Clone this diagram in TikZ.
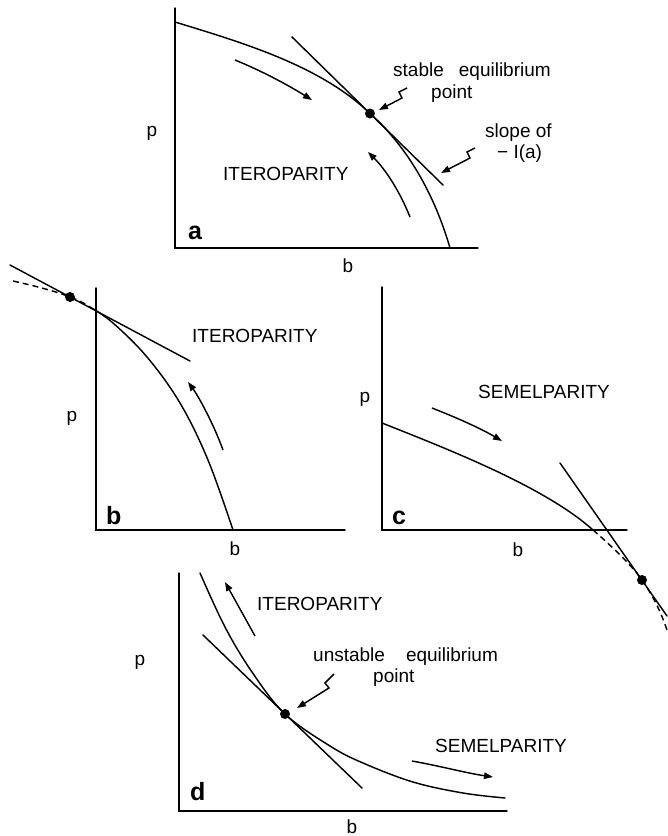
\documentclass[tikz,border=0pt]{standalone}
\usepackage{fontspec}
\setmainfont{Liberation Sans}
\usetikzlibrary{arrows.meta}
\begin{document}
\begin{tikzpicture}[x=1pt,y=-1pt,
  ln/.style={line width=1.45pt, line cap=round},
  arr/.style={line width=1.45pt, -{Triangle[length=9pt,width=6.5pt]}},
  dsh/.style={line width=1.45pt, dash pattern=on 6pt off 4pt},
  lbl/.style={font=\fontsize{19}{21}\selectfont, inner sep=0pt, anchor=base west},
  axl/.style={font=\fontsize{19}{21}\selectfont, inner sep=0pt},
  pan/.style={font=\fontsize{25}{27}\selectfont\bfseries, inner sep=0pt, anchor=base west},
  eqdot/.style={circle, fill, inner sep=0pt, minimum size=10pt}]
\useasboundingbox (0,0) rectangle (668,836);

% ---------------- panel a ----------------
\coordinate (aO) at (175,248);
\coordinate (aYt) at (175,8);
\coordinate (aXr) at (478,248);
\draw[ln] (aYt) -- (aO) -- (aXr);
\coordinate (aS) at (175,22);
\coordinate (aE) at (370,113.5);
\coordinate (aF) at (450,248);
\draw[ln] (aS) .. controls (240,42) and (320,65) .. (aE)
              .. controls (402,142) and (432,186) .. (aF);
\coordinate (aT1) at (292,37);
\coordinate (aT2) at (443,185);
\draw[ln] (aT1) -- (aT2);
\node[eqdot] (aDot) at (aE) {};
\coordinate (aA1s) at (235,60);
\coordinate (aA1e) at (312,100);
\draw[arr] (aA1s) .. controls (262,71) and (288,85) .. (aA1e);
\coordinate (aA2s) at (410,217);
\coordinate (aA2e) at (368,152);
\draw[arr] (aA2s) .. controls (400,192) and (386,170) .. (aA2e);
\node[lbl] (aStable) at (393,76) {stable\hspace{15pt}equilibrium};
\node[lbl] (aPoint) at (431,98) {point};
\node[lbl] (aSlope) at (485,137) {slope of};
\node[lbl] (aIa) at (497,158) {− I(a)};
\coordinate (aQ1s) at (407,88);
\coordinate (aQ1t) at (379,110);
\draw[arr] (aQ1s) -- (399,92) -- (402,98) -- (aQ1t);
\coordinate (aQ2s) at (475,148);
\coordinate (aQ2t) at (441,173);
\draw[arr] (aQ2s) -- (467,152) -- (470,158) -- (aQ2t);
\node[lbl] (aItero) at (223,180) {ITEROPARITY};
\node[pan] (aLab) at (188,239) {a};
\node[axl] (aP) at (152,133) {p};
\node[axl] (aB) at (348,266) {b};

% ---------------- panel b ----------------
\coordinate (bO) at (96,530);
\coordinate (bYt) at (96,288);
\coordinate (bXr) at (345,530);
\draw[ln] (bYt) -- (bO) -- (bXr);
\coordinate (bE) at (70,297);
\coordinate (bJ) at (90,307);
\draw[dsh] (13,281) .. controls (35,286) and (55,291) .. (bE)
              .. controls (78,300) and (84,303) .. (bJ);
\draw[ln] plot[smooth, tension=0.6] coordinates {(90,307) (113,323) (147,357) (180,403) (208,460) (233,530)};
\coordinate (bT1) at (10,265);
\coordinate (bT2) at (190,361);
\draw[ln] (bT1) -- (bT2);
\node[eqdot] (bDot) at (bE) {};
\coordinate (bAs) at (223,450);
\coordinate (bAe) at (188,382);
\draw[arr] (bAs) .. controls (214,425) and (199,397) .. (bAe);
\node[lbl] (bItero) at (192,342) {ITEROPARITY};
\node[pan] (bLab) at (106,524) {b};
\node[axl] (bP) at (72,418) {p};
\node[axl] (bB) at (235,549) {b};

% ---------------- panel c ----------------
\coordinate (cO) at (382,530);
\coordinate (cYt) at (382,287);
\coordinate (cXr) at (627,530);
\draw[ln] (cYt) -- (cO) -- (cXr);
\coordinate (cS) at (382,423);
\coordinate (cJ) at (593,530);
\coordinate (cE) at (642,580);
\draw[ln] (cS) .. controls (450,450) and (545,487) .. (cJ);
\draw[dsh] (cJ) .. controls (608,543) and (631,564) .. (cE)
              .. controls (652,594) and (661,612) .. (667,630);
\coordinate (cT1) at (560,463);
\coordinate (cT2) at (667,616);
\draw[ln] (cT1) -- (cT2);
\node[eqdot] (cDot) at (cE) {};
\coordinate (cAs) at (432,408);
\coordinate (cAe) at (502,441);
\draw[arr] (cAs) .. controls (455,417) and (480,428) .. (cAe);
\node[lbl] (cSemel) at (478,398) {SEMELPARITY};
\node[pan] (cLab) at (392,524) {c};
\node[axl] (cP) at (365,399) {p};
\node[axl] (cB) at (518,550) {b};

% ---------------- panel d ----------------
\coordinate (dO) at (179,811);
\coordinate (dYt) at (179,573);
\coordinate (dXr) at (507,811);
\draw[ln] (dYt) -- (dO) -- (dXr);
\coordinate (dE) at (285,714);
\draw[ln] plot[smooth, tension=0.6] coordinates {(200,573) (225,627) (252,672) (285,714) (330,746) (363,763) (413,782) (463,793) (505,798)};
\coordinate (dT1) at (203,635);
\coordinate (dT2) at (362,788);
\draw[ln] (dT1) -- (dT2);
\node[eqdot] (dDot) at (dE) {};
\coordinate (dA1s) at (255,636);
\coordinate (dA1e) at (225,582);
\draw[arr] (dA1s) -- (dA1e);
\coordinate (dA2s) at (412,761);
\coordinate (dA2e) at (493,777);
\draw[arr] (dA2s) .. controls (440,766) and (466,773) .. (dA2e);
\node[lbl] (dItero) at (257,610) {ITEROPARITY};
\node[lbl] (dUnst) at (313,661) {unstable\hspace{21pt}equilibrium};
\node[lbl] (dPoint) at (373,682) {point};
\coordinate (dQs) at (334,674);
\coordinate (dQt) at (297,708);
\draw[arr] (dQs) -- (325,683) -- (329,688) -- (dQt);
\node[lbl] (dSemel) at (435,752) {SEMELPARITY};
\node[pan] (dLab) at (190,800) {d};
\node[axl] (dP) at (140,662) {p};
\node[axl, anchor=base] (dB) at (352,833) {b};
\end{tikzpicture}
\end{document}
